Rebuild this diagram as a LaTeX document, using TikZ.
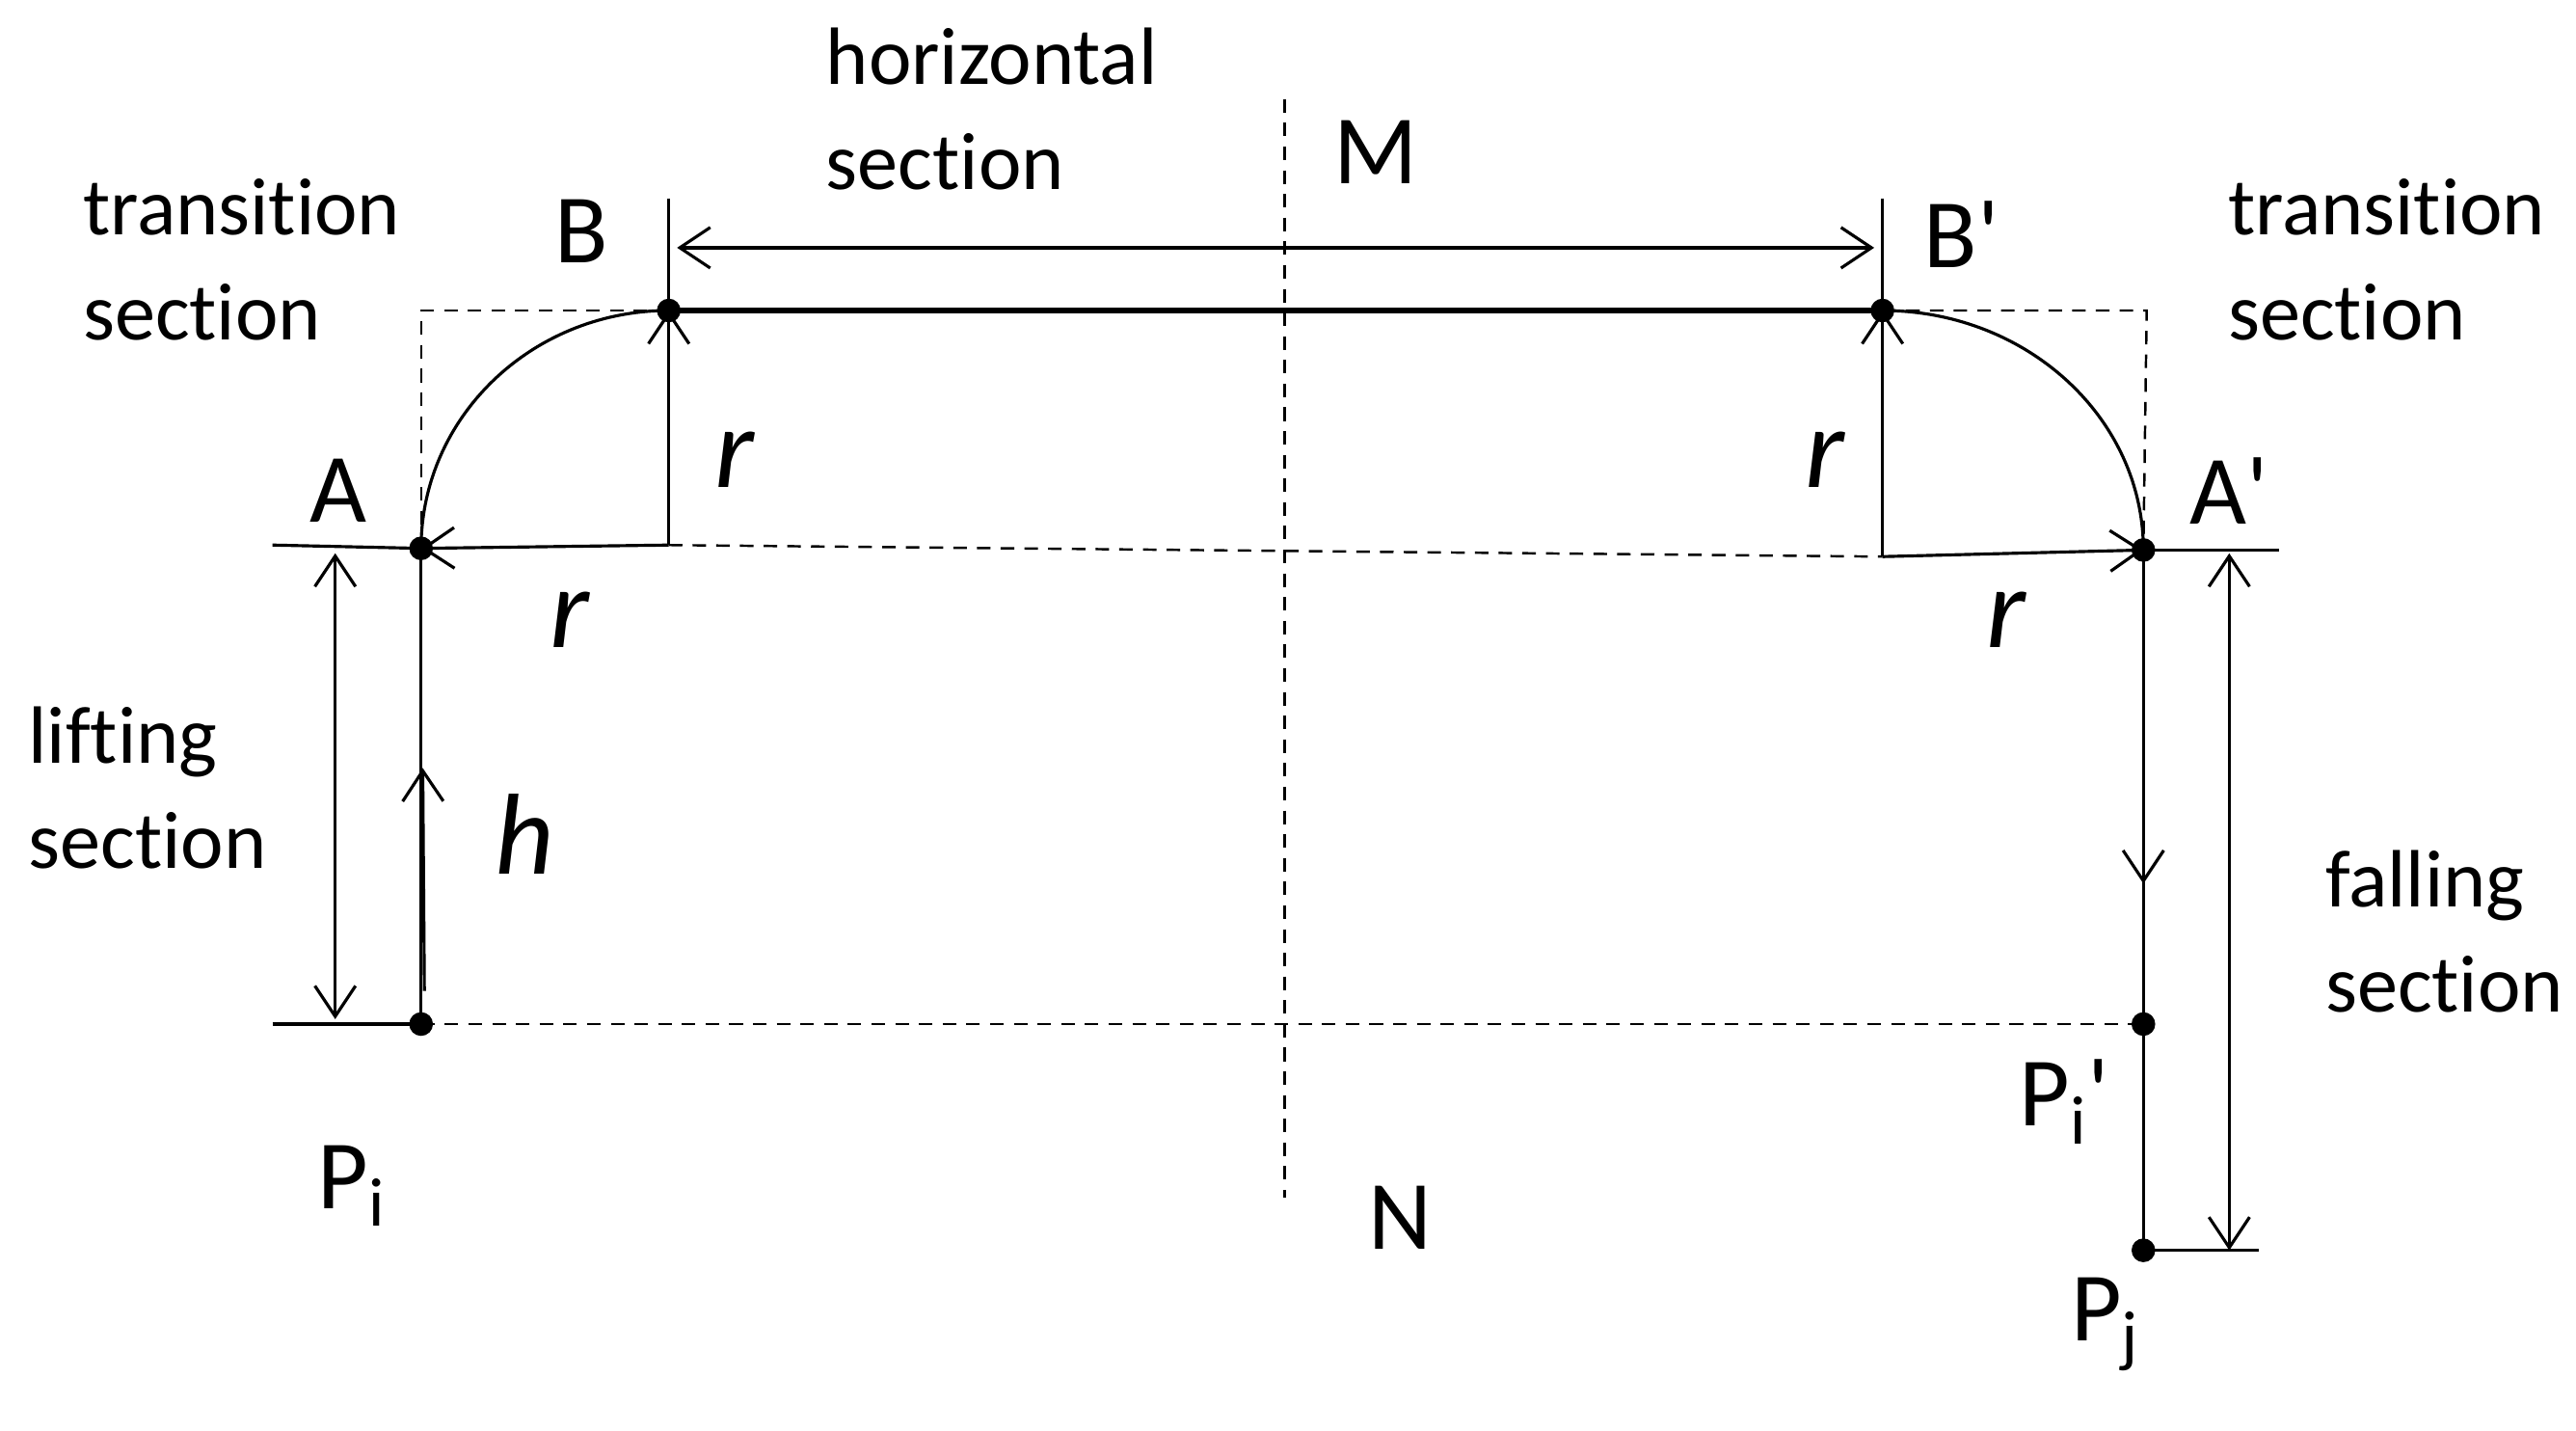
\documentclass[tikz,border=0pt]{standalone}
\usepackage{fontspec}
\setmainfont[Ligatures=NoCommon]{Carlito}
\usetikzlibrary{arrows.meta}
\begin{document}
\begin{tikzpicture}[x=0.01713cm,y=-0.01713cm,
 dsh/.style={dash pattern=on 4pt off 3pt, line width=0.7pt},
 ln/.style={line width=0.9pt},
 ar/.style={line width=0.9pt,-{Straight Barb[length=9pt,width=12pt]}},
 dar/.style={line width=0.9pt,{Straight Barb[length=9pt,width=12pt]}-{Straight Barb[length=9pt,width=12pt]}},
 dot/.style={circle,fill=black,inner sep=0pt,minimum size=7pt},
 lbl/.style={font=\fontsize{24}{31}\selectfont,align=left,anchor=west},
 big/.style={font=\fontsize{29}{34}\selectfont},
 rr/.style={font=\fontsize{34}{36}\selectfont\itshape}]
\useasboundingbox (0,0) rectangle (1560,866);
\node[dot] (A) at (255,332) {};
\node[dot] (B) at (405,188) {};
\node[dot] (Bp) at (1140,188) {};
\node[dot] (Ap) at (1298,333) {};
\node[dot] (Pi) at (255,620) {};
\node[dot] (Pip) at (1298,620) {};
\node[dot] (Pj) at (1298,757) {};
\coordinate (O1) at (405,330); \coordinate (O2) at (1140,337);
\coordinate (TL) at (255,188); \coordinate (TR) at (1300,188);
% dashed
\draw[dsh] (A.center) -- (TL) -- (B.center);
\draw[dsh] (Bp.center) -- (TR) -- (Ap.center);
\draw[dsh] (O1) -- (O2);
\draw[dsh] (Pi.center) -- (Pip.center);
\draw[dsh] (778,60) -- (778,725);
% main path
\draw[line width=1.6pt] (B.center) -- (Bp.center);
\draw[ln] (A.center) arc[start angle=180,end angle=270,x radius=150,y radius=144];
\draw[ln] (Bp.center) arc[start angle=270,end angle=360,x radius=158,y radius=145];
\draw[ln] (Pi.center) -- (A.center);
\draw[ar] (257,600) -- (256,465);
\draw[ln] (Ap.center) -- (Pj.center);
\draw[ar] (1298,400) -- (1298,535);
% radius arrows
\draw[ar] (O1) -- (A.center);
\draw[ar] (O1) -- (B.center);
\draw[ar] (O2) -- (Bp.center);
\draw[ar] (O2) -- (Ap.center);
% ticks
\draw[ln] (405,120) -- (B.center);
\draw[ln] (1140,120) -- (Bp.center);
\draw[dar] (410,150) -- (1135,150);
\draw[ln] (165,330) -- (A.center);
\draw[ln] (Ap.center) -- (1380,333);
\draw[ln] (165,620) -- (Pi.center);
\draw[ln] (Pj.center) -- (1368,757);
\draw[dar] (203,335) -- (203,617);
\draw[dar] (1350,335) -- (1350,757);
% labels
\node[lbl] (hs) at (493,66) {horizontal\\section};
\node[lbl] (tsl) at (43,157) {transition\\section};
\node[lbl] (tsr) at (1342,157) {transition\\section};
\node[lbl] (ls) at (10,477) {lifting\\section};
\node[lbl] (fs) at (1401,564) {falling\\section};
\node[big] (M) at (833,92) {M};
\node[big] (Bl) at (352,140) {B};
\node[big] (Bpl) at (1188,142) {B\textquotesingle};
\node[big] (Al) at (205,297) {A};
\node[big] (Apl) at (1350,297) {A\textquotesingle};
\node[big] (N) at (848,737) {N};
\node[big] (Pil) at (213,718) {P\textsubscript{i}};
\node[big] (Pipl) at (1250,667) {P\textsubscript{i}\textquotesingle};
\node[big] (Pjl) at (1275,802) {P\textsubscript{j}};
\node[rr] at (445,278) {r};
\node[rr] at (1105,278) {r};
\node[rr] at (345,375) {r};
\node[rr] at (1215,375) {r};
\node[rr] at (318,505) {h};
\end{tikzpicture}
\end{document}
